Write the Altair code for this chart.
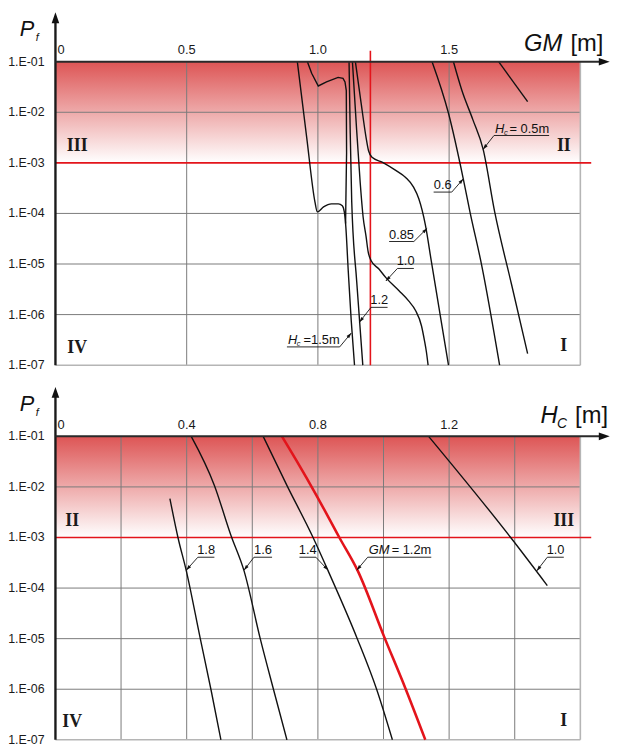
import math
import altair as alt
import pandas as pd

# ---------------- values ----------------
# Top panel: Pf against GM [m]; one curve per Hc, Pf given as log10 values
top_a_gm = [0.9216, 0.9574, 0.9887, 0.9977, 1.0215, 1.0516, 1.0780, 1.0931, 1.1006, 1.1055, 1.1157, 1.1270, 1.1395]
top_a_lp = [-1.0, -2.50, -3.77, -3.97, -3.87, -3.81, -3.81, -3.85, -3.97, -4.20, -5.14, -6.12, -7.0]
top_b_gm = [0.9600, 0.9762, 1.0015, 1.0328, 1.0769, 1.0957, 1.1033, 1.1082, 1.1093, 1.1063, 1.1055]
top_b_lp = [-1.0, -1.23, -1.48, -1.40, -1.31, -1.33, -1.40, -1.57, -2.80, -3.87, -4.20]
top_c_gm = [1.1187, 1.1232, 1.1289, 1.1478, 1.1711]
top_c_lp = [-1.0, -2.41, -3.77, -5.34, -7.0]
top_d_gm = [1.1316, 1.1459, 1.1610, 1.1723, 1.1836, 1.1912, 1.2024, 1.2326, 1.2590, 1.3091,
            1.3457, 1.3720, 1.3946, 1.4059, 1.4135, 1.4199]
top_d_lp = [-1.0, -2.21, -3.38, -4.07, -4.46, -4.75, -4.93, -5.10, -5.27, -5.53,
            -5.73, -5.92, -6.22, -6.51, -6.74, -7.0]
top_e_gm = [1.1429, 1.1647, 1.1836, 1.1930, 1.2062, 1.2465, 1.2966, 1.3343, 1.3645, 1.3845,
            1.4097, 1.4323, 1.4663, 1.4976]
top_e_lp = [-1.0, -1.82, -2.50, -2.76, -2.89, -2.99, -3.15, -3.29, -3.48, -3.71,
            -4.23, -4.95, -6.02, -7.0]
top_f_gm = [1.4350, 1.4976, 1.5541, 1.5794, 1.6235, 1.6924]
top_f_lp = [-1.0, -2.02, -3.32, -3.97, -5.01, -7.0]
top_g_gm = [1.5164, 1.5481, 1.5907, 1.6295, 1.6736, 1.7377, 1.7991]
top_g_lp = [-1.0, -1.56, -2.15, -2.73, -3.97, -5.40, -6.77]
top_h_gm = [1.6887, 1.7991]
top_h_lp = [-1.0, -1.79]

# Bottom panel: Pf against Hc [m]; one curve per GM
bot_18_hc = [0.3488, 0.3738, 0.3989, 0.4415, 0.4745, 0.5044]
bot_18_lp = [-2.23, -3.01, -3.66, -5.0, -6.02, -7.0]
bot_16_hc = [0.4139, 0.4845, 0.5345, 0.5749, 0.6250, 0.6653, 0.7055]
bot_16_lp = [-1.0, -1.97, -2.95, -3.66, -5.02, -6.02, -7.0]
bot_14_hc = [0.6331, 0.7055, 0.7860, 0.8312, 0.9200, 0.9790, 1.0271]
bot_14_lp = [-1.0, -1.97, -3.01, -3.66, -5.0, -6.0, -7.0]
bot_10_hc = [1.1375, 1.3889, 1.4993]
bot_10_lp = [-1.0, -3.01, -3.95]
bot_12_hc = [0.6904, 0.7357, 0.7959, 0.8662, 0.9216, 1.0018, 1.0672, 1.1275]
bot_12_lp = [-1.0, -1.49, -2.17, -3.01, -3.66, -4.96, -5.99, -7.0]

# axis ticks
y_tick_p = [1e-1, 1e-2, 1e-3, 1e-4, 1e-5, 1e-6, 1e-7]
y_tick_txt = ["1.E-01", "1.E-02", "1.E-03", "1.E-04", "1.E-05", "1.E-06", "1.E-07"]
top_grid_x = [0.5, 1.0, 1.5]
top_tick_x = [0.0, 0.5, 1.0, 1.5]
top_tick_txt = ["0", "0.5", "1.0", "1.5"]
bot_grid_x = [0.2, 0.4, 0.6, 0.8, 1.0, 1.2, 1.4]
bot_tick_x = [0.0, 0.4, 0.8, 1.2]
bot_tick_txt = ["0", "0.4", "0.8", "1.2"]
top_xmax = 2.0
bot_xmax = 1.6
top_vline_gm = [1.2]

# region labels
top_reg_x = [0.083, 1.937, 0.083, 1.937]
top_reg_lp = [-2.66, -2.66, -6.66, -6.63]
top_reg_txt = ["III", "II", "IV", "I"]
bot_reg_x = [0.051, 1.5496, 0.051, 1.5496]
bot_reg_lp = [-2.68, -2.68, -6.65, -6.63]
bot_reg_txt = ["II", "III", "IV", "I"]

# curve labels with leaders
top_note_pre = ["H", "", "", "", "", "H"]
top_note_sub = ["c", "", "", "", "", "c"]
top_note_main = ["= 0.5m", "0.6", "0.85", "1.0", "1.2", "=1.5m"]
top_note_tipx = [1.6295, 1.554, 1.4161, 1.259, 1.1583, 1.127]
top_note_tiplp = [-2.732, -3.318, -4.295, -5.336, -6.150, -6.365]
top_note_ulx0 = [1.671, 1.441, 1.2714, 1.303, 1.2024, 0.882]
top_note_ulx1 = [1.881, 1.510, 1.3657, 1.3657, 1.2654, 1.083]
top_note_ullp = [-2.459, -3.578, -4.555, -5.088, -5.857, -6.639]
top_note_side = ["L", "R", "R", "L", "L", "R"]

bot_note_pre = ["", "", "", "GM", ""]
bot_note_sub = ["", "", "", "", ""]
bot_note_main = ["1.8", "1.6", "1.4", "= 1.2m", "1.0"]
bot_note_tipx = [0.3989, 0.5749, 0.8312, 0.9186, 1.4673]
bot_note_tiplp = [-3.646, -3.646, -3.646, -3.646, -3.658]
bot_note_ulx0 = [0.4341, 0.6051, 0.7438, 0.9518, 1.4993]
bot_note_ulx1 = [0.4845, 0.6603, 0.7938, 1.1456, 1.5496]
bot_note_ullp = [-3.39, -3.39, -3.39, -3.39, -3.39]
bot_note_side = ["L", "L", "R", "L", "L"]

# ---------------- styling ----------------
W, H = 531, 307
SANS = "Liberation Sans"
SERIF = "Liberation Serif"
INK = "#111111"
RED = "#e3141b"
GRID = "#7a7a7a"
EDGE = "#b5b5b5"
GRADIENT = {"gradient": "linear", "x1": 0, "x2": 0, "y1": 0, "y2": 1,
            "stops": [{"offset": 0, "color": "#dd5555"}, {"offset": 1, "color": "#ffffff"}]}
ARROW_UP = "M-0.7,1L0.7,1L0,-1Z"
ARROW_RIGHT = "M-1,-0.7L-1,0.7L1,0Z"
HEAD = "M0,-1L0.62,1L-0.62,1Z"
ONE = pd.DataFrame({"k": [0]})

YS = alt.Scale(type="log", domain=[1e-7, 1e-1], nice=False)


def Yq(f):
    return alt.Y(f, type="quantitative", scale=YS, axis=None)


def px_of(x, lp, xmax):
    return x / xmax * W, (-1.0 - lp) / 6.0 * H


def data_of(px, py, xmax):
    return px / W * xmax, -1.0 - py / H * 6.0


def curves_frame(curves):
    rows = []
    for name, (xv, lv) in curves.items():
        for i, (x, lp) in enumerate(zip(xv, lv)):
            rows.append({"curve": name, "i": i, "x": x, "p": 10.0 ** lp})
    return pd.DataFrame(rows)


def notes_frame(pre, sub, main, tipx, tiplp, ulx0, ulx1, ullp, side, xmax):
    rows = []
    for k in range(len(main)):
        ex = ulx0[k] if side[k] == "L" else ulx1[k]
        ax, ay = px_of(tipx[k], tiplp[k], xmax)
        bx, by = px_of(ex, ullp[k], xmax)
        dx, dy = ax - bx, ay - by
        ln = math.hypot(dx, dy)
        ang = math.degrees(math.atan2(dx, -dy)) % 360
        cx, cy = ax - dx / ln * 2.6, ay - dy / ln * 2.6
        hx, hlp = data_of(cx, cy, xmax)
        rows.append(dict(pre=pre[k], sub=sub[k], main=main[k], tipx=tipx[k], tipp=10 ** tiplp[k],
                         ulx0=ulx0[k], ulx1=ulx1[k], ulp=10 ** ullp[k], elbx=ex,
                         mid=(ulx0[k] + ulx1[k]) / 2, hx=hx, hp=10 ** hlp, ang=ang))
    return pd.DataFrame(rows)


def panel(curves, curves_lin, red_curve, xmax, grid_x, tick_x, tick_txt, reg, notes, xtitle, vline=None):
    xs = alt.Scale(domain=[0, xmax], nice=False, zero=False)

    def X(f):
        return alt.X(f, type="quantitative", scale=xs, axis=None)

    L = []
    # red shaded band 1e-1 .. 1e-3
    L.append(alt.Chart(pd.DataFrame({"x0": [0.0], "x1": [xmax], "p0": [1e-1], "p1": [1e-3]}))
             .mark_rect(fill=GRADIENT, strokeWidth=0)
             .encode(x=X("x0"), x2="x1", y=Yq("p0"), y2="p1"))
    # grid
    L.append(alt.Chart(pd.DataFrame({"x": grid_x})).mark_rule(color=GRID, strokeWidth=1)
             .encode(x=X("x"), y=alt.value(0), y2=alt.value(H)))
    L.append(alt.Chart(pd.DataFrame({"p": [1e-2, 1e-4, 1e-5, 1e-6]})).mark_rule(color=GRID, strokeWidth=1)
             .encode(x=alt.value(0), x2=alt.value(W), y=Yq("p")))
    L.append(alt.Chart(pd.DataFrame({"x": [xmax]})).mark_rule(color=EDGE, strokeWidth=1.6)
             .encode(x=X("x"), y=alt.value(0), y2=alt.value(H)))
    L.append(alt.Chart(pd.DataFrame({"p": [1e-7]})).mark_rule(color=EDGE, strokeWidth=1.6)
             .encode(x=alt.value(0), x2=alt.value(W), y=Yq("p")))
    # red threshold line
    L.append(alt.Chart(pd.DataFrame({"p": [1e-3]})).mark_rule(color=RED, strokeWidth=1.6)
             .encode(x=alt.value(0), x2=alt.value(W + 11), y=Yq("p")))
    if vline is not None:
        L.append(alt.Chart(pd.DataFrame({"x": vline})).mark_rule(color=RED, strokeWidth=1.6)
                 .encode(x=X("x"), y=alt.value(-11), y2=alt.value(H)))
    # curves
    L.append(alt.Chart(curves_frame(curves)).mark_line(color=INK, strokeWidth=1.4, interpolate="monotone")
             .encode(x=X("x"), y=Yq("p"), detail="curve:N", order=alt.Order("i:Q")))
    if curves_lin:
        L.append(alt.Chart(curves_frame(curves_lin)).mark_line(color=INK, strokeWidth=1.4)
                 .encode(x=X("x"), y=Yq("p"), detail="curve:N", order=alt.Order("i:Q")))
    if red_curve is not None:
        L.append(alt.Chart(curves_frame(red_curve)).mark_line(color=RED, strokeWidth=2.6, interpolate="monotone")
                 .encode(x=X("x"), y=Yq("p"), detail="curve:N", order=alt.Order("i:Q")))
    # curve labels
    L.append(alt.Chart(notes).mark_rule(color=INK, strokeWidth=0.9)
             .encode(x=X("ulx0"), x2="ulx1", y=Yq("ulp")))
    L.append(alt.Chart(notes).mark_rule(color=INK, strokeWidth=0.9)
             .encode(x=X("elbx"), x2="tipx", y=Yq("ulp"), y2="tipp"))
    L.append(alt.Chart(notes).mark_point(shape=HEAD, filled=True, size=30, color=INK, opacity=1, strokeWidth=0)
             .encode(x=X("hx"), y=Yq("hp"), angle=alt.Angle("ang:Q", scale=None)))
    plain = notes[notes["pre"] == ""]
    fancy = notes[notes["pre"] != ""]
    subs = notes[notes["sub"] != ""]
    if len(plain):
        L.append(alt.Chart(plain).mark_text(font=SANS, fontSize=13, color=INK, align="center",
                                            baseline="alphabetic", dy=-3)
                 .encode(x=X("mid"), y=Yq("ulp"), text="main:N"))
    if len(fancy):
        L.append(alt.Chart(fancy).mark_text(font=SANS, fontSize=13, color=INK, align="right",
                                            baseline="alphabetic", dy=-3)
                 .encode(x=X("ulx1"), y=Yq("ulp"), text="main:N"))
        L.append(alt.Chart(fancy).mark_text(font=SANS, fontSize=13, fontStyle="italic", color=INK,
                                            align="left", baseline="alphabetic", dy=-3, dx=1)
                 .encode(x=X("ulx0"), y=Yq("ulp"), text="pre:N"))
    if len(subs):
        L.append(alt.Chart(subs).mark_text(font=SANS, fontSize=7.5, fontStyle="italic", color=INK,
                                           align="left", baseline="alphabetic", dy=-1, dx=10)
                 .encode(x=X("ulx0"), y=Yq("ulp"), text="sub:N"))
    # region numerals
    L.append(alt.Chart(reg).mark_text(font=SERIF, fontSize=18, fontWeight="bold", color="#1a1a1a",
                                      align="center", baseline="middle")
             .encode(x=X("x"), y=Yq("p"), text="t:N"))
    # axes with arrows
    L.append(alt.Chart(ONE).mark_rule(color="#1a1a1a", strokeWidth=2.4)
             .encode(x=alt.value(0), y=alt.value(-44), y2=alt.value(H)))
    L.append(alt.Chart(ONE).mark_rule(color="#2a2a2a", strokeWidth=2)
             .encode(x=alt.value(0), x2=alt.value(W + 25), y=alt.value(0)))
    L.append(alt.Chart(ONE).mark_point(shape=ARROW_UP, filled=True, size=121, color="#111", opacity=1, strokeWidth=0)
             .encode(x=alt.value(0), y=alt.value(-44.5)))
    L.append(alt.Chart(ONE).mark_point(shape=ARROW_RIGHT, filled=True, size=121, color="#111", opacity=1, strokeWidth=0)
             .encode(x=alt.value(W + 24.2), y=alt.value(0)))
    # tick labels
    L.append(alt.Chart(pd.DataFrame({"p": y_tick_p, "t": y_tick_txt}))
             .mark_text(font=SANS, fontSize=12.5, color="#1a1a1a", align="right", baseline="middle")
             .encode(x=alt.value(-11), y=Yq("p"), text="t:N"))
    L.append(alt.Chart(pd.DataFrame({"x": tick_x[:1], "t": tick_txt[:1]}))
             .mark_text(font=SANS, fontSize=13, color="#1a1a1a", align="left", baseline="alphabetic", dx=2)
             .encode(x=X("x"), y=alt.value(-7.5), text="t:N"))
    L.append(alt.Chart(pd.DataFrame({"x": tick_x[1:], "t": tick_txt[1:]}))
             .mark_text(font=SANS, fontSize=13, color="#1a1a1a", align="center", baseline="alphabetic")
             .encode(x=X("x"), y=alt.value(-7.5), text="t:N"))
    # axis titles
    L.append(alt.Chart(ONE).mark_text(font=SANS, fontSize=22, fontStyle="italic", color=INK,
                                      align="left", baseline="alphabetic")
             .encode(x=alt.value(-36), y=alt.value(-26), text=alt.value("P")))
    L.append(alt.Chart(ONE).mark_text(font=SANS, fontSize=11, fontStyle="italic", color=INK,
                                      align="left", baseline="alphabetic")
             .encode(x=alt.value(-20), y=alt.value(-21), text=alt.value("f")))
    for txt, xx, yy, sz, it in xtitle:
        kw = dict(font=SANS, fontSize=sz, color=INK, align="left", baseline="alphabetic")
        if it:
            kw["fontStyle"] = "italic"
        L.append(alt.Chart(ONE).mark_text(**kw)
                 .encode(x=alt.value(xx), y=alt.value(yy), text=alt.value(txt)))
    return alt.layer(*L).properties(width=W, height=H)


top_curves = {"a": (top_a_gm, top_a_lp), "c": (top_c_gm, top_c_lp),
              "d": (top_d_gm, top_d_lp), "e": (top_e_gm, top_e_lp), "f": (top_f_gm, top_f_lp),
              "g": (top_g_gm, top_g_lp), "h": (top_h_gm, top_h_lp)}
top_curves_lin = {"b": (top_b_gm, top_b_lp)}
bot_curves = {"1.8": (bot_18_hc, bot_18_lp), "1.6": (bot_16_hc, bot_16_lp),
              "1.4": (bot_14_hc, bot_14_lp), "1.0": (bot_10_hc, bot_10_lp)}
bot_red = {"1.2": (bot_12_hc, bot_12_lp)}

top_reg = pd.DataFrame({"x": top_reg_x, "p": [10 ** v for v in top_reg_lp], "t": top_reg_txt})
bot_reg = pd.DataFrame({"x": bot_reg_x, "p": [10 ** v for v in bot_reg_lp], "t": bot_reg_txt})

top_notes = notes_frame(top_note_pre, top_note_sub, top_note_main, top_note_tipx, top_note_tiplp,
                        top_note_ulx0, top_note_ulx1, top_note_ullp, top_note_side, top_xmax)
bot_notes = notes_frame(bot_note_pre, bot_note_sub, bot_note_main, bot_note_tipx, bot_note_tiplp,
                        bot_note_ulx0, bot_note_ulx1, bot_note_ullp, bot_note_side, bot_xmax)

top_title = [("GM", 474, -11, 24, True), ("[m]", 521, -11, 24, False)]
bot_title = [("H", 490.7, -13, 24, True), ("C", 507.5, -8, 14, True), ("[m]", 525.7, -13, 24, False)]

top = panel(top_curves, top_curves_lin, None, top_xmax, top_grid_x, top_tick_x, top_tick_txt, top_reg,
            top_notes, top_title, vline=top_vline_gm)
bottom = panel(bot_curves, None, bot_red, bot_xmax, bot_grid_x, bot_tick_x, bot_tick_txt, bot_reg,
               bot_notes, bot_title)

chart = (alt.vconcat(top, bottom, spacing=72, bounds="flush")
         .properties(padding={"left": 0, "top": 0, "right": 0, "bottom": 0})
         .configure_view(strokeWidth=0))

chart.save("out.html", embed_options={"renderer": "svg", "actions": False})
